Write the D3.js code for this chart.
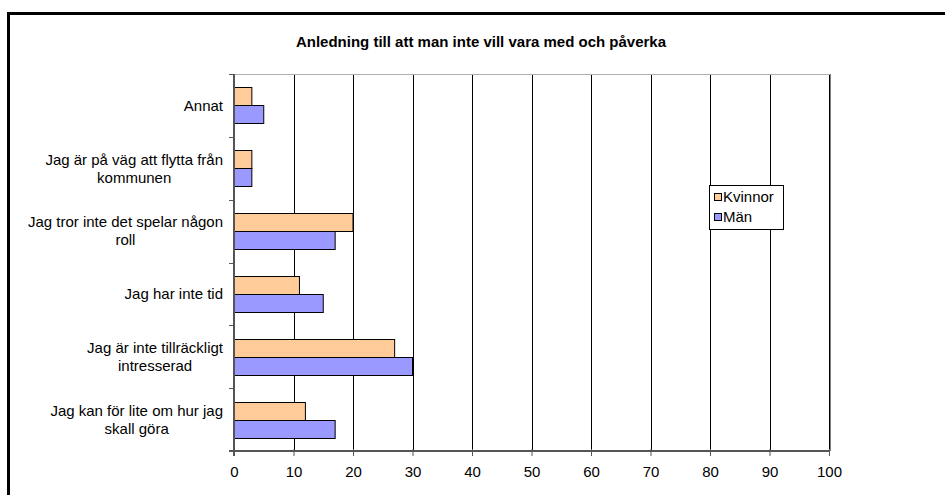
<!DOCTYPE html>
<html><head><meta charset="utf-8">
<script src="https://cdn.jsdelivr.net/npm/d3@7"></script>
<style>body{margin:0;background:#fff}svg{display:block}text{font-family:"Liberation Sans",Arial,sans-serif}</style>
</head><body>
<svg id="c" width="945" height="495"></svg>
<script>
const title = "Anledning till att man inte vill vara med och påverka";
const categories = [
  ["Annat"],
  ["Jag är på väg att flytta från", "kommunen"],
  ["Jag tror inte det spelar någon", "roll"],
  ["Jag har inte tid"],
  ["Jag är inte tillräckligt", "intresserad"],
  ["Jag kan för lite om hur jag", "skall göra"]
];
const seriesNames = ["Kvinnor", "Män"];
const kvinnor = [3, 3, 20, 11, 27, 12];
const man = [5, 3, 17, 15, 30, 17];
const xTicks = [0, 10, 20, 30, 40, 50, 60, 70, 80, 90, 100];
const colors = ["#FFCC99", "#9999FF"];

const FS = 15;
const svg = d3.select("#c");
svg.append("rect").attr("width",945).attr("height",495).attr("fill","#fff");
svg.append("rect").attr("x",8.5).attr("y",13.5).attr("width",1000).attr("height",600)
  .attr("fill","none").attr("stroke","#000").attr("stroke-width",3);

const L=234, R=829, T=74, B=451;
const x = d3.scaleLinear().domain([0,100]).range([L,R]);
const idx = d3.range(categories.length);
const y = d3.scaleBand().domain(idx).range([T,B]).paddingInner(0.4286).paddingOuter(0.2143);
const sub = d3.scaleBand().domain([0,1]).range([0,y.bandwidth()]);

// title
svg.append("text").attr("x",481).attr("y",47).attr("text-anchor","middle")
  .attr("font-size",15).attr("font-weight","bold").text(title);

// gridlines
svg.append("g").selectAll("line").data(xTicks.slice(1)).join("line")
  .attr("x1",d=>Math.round(x(d))+0.5).attr("x2",d=>Math.round(x(d))+0.5)
  .attr("y1",T).attr("y2",B).attr("stroke","#000").attr("stroke-width",1);
// plot border top/right
svg.append("line").attr("x1",L).attr("x2",R+1).attr("y1",T+0.5).attr("y2",T+0.5).attr("stroke","#b0b0b0");
svg.append("line").attr("x1",R+1.5).attr("x2",R+1.5).attr("y1",T).attr("y2",B).attr("stroke","#808080");

// bars
const band = y.step();
[kvinnor, man].forEach((vals, s) => {
  svg.append("g").selectAll("rect").data(vals).join("rect")
    .attr("x", x(0))
    .attr("y", (d,i) => Math.round(y(i) + sub(s)) + 0.5)
    .attr("width", d => x(d) - x(0))
    .attr("height", Math.round(sub.bandwidth()))
    .attr("fill", colors[s]).attr("stroke","#000").attr("stroke-width",1);
});

// x axis
const xAxis = d3.axisBottom(x).tickValues(xTicks).tickSize(5).tickSizeOuter(0);
const gx = svg.append("g").attr("transform",`translate(0,${B})`).call(xAxis);
gx.select(".domain").remove();
gx.selectAll(".tick line").attr("stroke","#555").attr("y1",-2);
gx.selectAll(".tick text").attr("font-size",FS).attr("fill","#000").attr("dy","1.2em")
  .style("font-family","Liberation Sans, Arial, sans-serif");
svg.append("line").attr("x1",L-5).attr("x2",R+1).attr("y1",B).attr("y2",B).attr("stroke","#555").attr("stroke-width",2);

// y axis
svg.append("line").attr("x1",L).attr("x2",L).attr("y1",T).attr("y2",B+5).attr("stroke","#555").attr("stroke-width",2);
svg.append("g").selectAll("line").data(d3.range(categories.length+1)).join("line")
  .attr("x1",L-5).attr("x2",L).attr("y1",d=>Math.round(T+d*band)+0.5).attr("y2",d=>Math.round(T+d*band)+0.5)
  .attr("stroke","#555").attr("stroke-width",1);

// category labels
const lh = 18;
idx.forEach(i => {
  const lines = categories[i];
  const cy = y(i) + y.bandwidth()/2;
  const g = svg.append("g");
  const ts = lines.map((ln,k) => g.append("text").attr("font-size",FS)
     .attr("y", cy + (k - (lines.length-1)/2)*lh).attr("dy","0.35em").text(ln));
  const w = d3.max(ts, t => t.node().getComputedTextLength());
  const cx = 223 - w/2;
  ts.forEach(t => t.attr("x", cx).attr("text-anchor","middle"));
});

// legend
const lg = svg.append("g").attr("transform","translate(709,185)");
lg.append("rect").attr("x",0.5).attr("y",0.5).attr("width",74).attr("height",44).attr("fill","#fff").attr("stroke","#000");
seriesNames.forEach((n,s) => {
  lg.append("rect").attr("x",5.5).attr("y",8.5+s*20).attr("width",7).attr("height",7)
    .attr("fill",colors[s]).attr("stroke","#000");
  lg.append("text").attr("x",14).attr("y",12+s*20).attr("dy","0.35em").attr("font-size",FS).text(n);
});
</script>
</body></html>
